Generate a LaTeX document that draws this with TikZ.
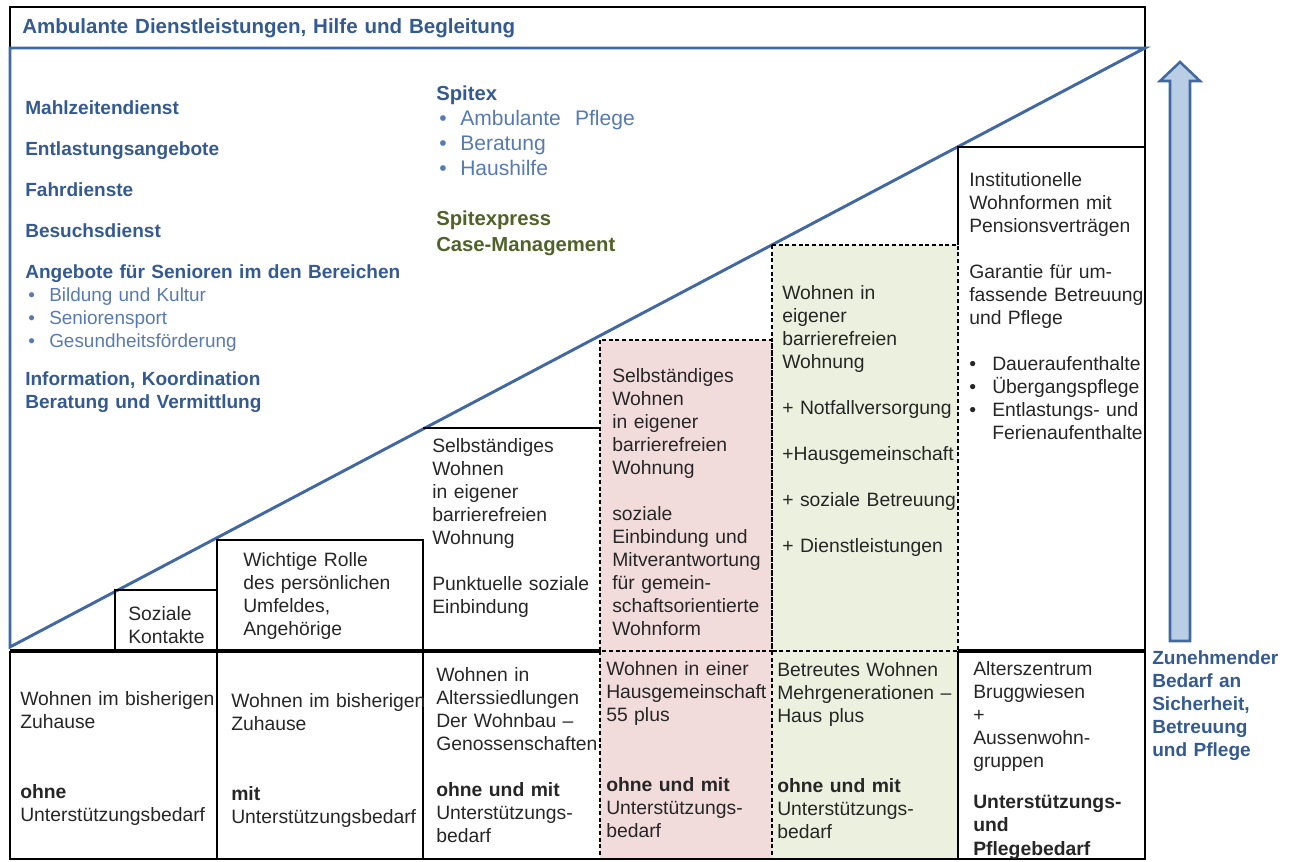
\documentclass[tikz,border=0pt]{standalone}
\usepackage{fontspec}
\setmainfont{Liberation Sans}
\usepackage{tikz}
\usetikzlibrary{positioning}
\usetikzlibrary{arrows.meta}
\definecolor{dunkelblau}{RGB}{52,90,145}
\definecolor{hellblau}{RGB}{88,122,178}
\definecolor{linienblau}{RGB}{65,104,160}
\definecolor{oliv}{RGB}{79,98,40}
\definecolor{rosa}{RGB}{242,220,219}
\definecolor{hellgruen}{RGB}{235,241,222}
\definecolor{pfeilblau}{RGB}{185,205,229}
\newcommand{\zelle}{\fontsize{14.5}{17.25}\selectfont}
\newcommand{\fett}{\fontsize{14.3}{17.25}\selectfont\bfseries}
\newcommand{\pkt}[1][15.75pt]{\makebox[#1][l]{\textbullet}}
\tikzstyle{txt} = [anchor=base west, inner sep=0pt, align=left, text width=14cm,
text=black!85, font=\zelle]
\tikzstyle{rahmen} = [draw=black, line width=1.3pt]
\tikzstyle{strich} = [draw=black, line width=1.2pt, dash pattern=on 3pt off 2pt]

\begin{document}
\begin{tikzpicture}[x=0.75pt, y=-0.75pt,
	blaulinie/.style={draw=linienblau, line width=2.2pt},
	dienst/.style={txt, text=dunkelblau, font=\fett},
	punkt/.style={txt, text=hellblau, font=\fontsize{14.2}{17.6}\selectfont},
	spitex/.style={txt, text=dunkelblau, font=\fontsize{15.2}{19.5}\selectfont\bfseries}]
	\useasboundingbox (0,0) rectangle (1292,861);
	%% Farbflaechen
	\fill[rosa] (600,340) rectangle (772,860);
	\fill[hellgruen] (772,245) rectangle (958,860);
	%% Rahmen und Diagonale
	\draw[rahmen] (10,48) -- (10,7) -- (1145,7) -- (1145,860);
	\draw[blaulinie] (10,647) -- (10,48) -- (1145,48) -- cycle;
	%% Stufen
	\draw[rahmen] (115,651) -- (115,590) -- (217,590) -- (217,651);
	\draw[rahmen] (217,651) -- (217,540) -- (423,540) -- (423,651);
	\draw[rahmen] (423,428) -- (600,428);
	\draw[rahmen] (958,245) -- (958,147) -- (1145,147);
	\draw[strich] (600,340) rectangle (772,651);
	\draw[strich] (772,245) rectangle (958,651);
	%% untere Reihe
	\draw[rahmen, line width=2.4pt] (10,651) -- (600,651);
	\draw[rahmen, line width=2.4pt] (958,651) -- (1145,651);
	\draw[rahmen, line width=2.2pt] (10,651) -- (10,860);
	\draw[rahmen] (217,651) -- (217,860);
	\draw[rahmen] (423,651) -- (423,860);
	\draw[strich] (600,651) -- (600,860);
	\draw[strich] (772,651) -- (772,860);
	\draw[rahmen] (958,651) -- (958,860);
	\draw[rahmen] (10,859) -- (1145,859);

	%% Titel
	\node[dienst, font=\fontsize{15.4}{18}\selectfont\bfseries] (titel) at (22,33)
	{Ambulante Dienstleistungen, Hilfe und Begleitung};
	%% Dienste links
	\node[dienst] (mahlzeit) at (25,114) {Mahlzeitendienst};
	\node[dienst] (entlastung) at (25,155) {Entlastungsangebote};
	\node[dienst] (fahr) at (25,196) {Fahrdienste};
	\node[dienst] (besuch) at (25,237) {Besuchsdienst};
	\node[dienst] (angebote) at (25,278) {Angebote für Senioren im den Bereichen};
	\node[punkt] (bereiche) at (28,301)
	{\pkt Bildung und Kultur\\ \pkt Seniorensport\\ \pkt Gesundheitsförderung};
	\node[dienst] (info) at (25,385) {Information, Koordination\\Beratung und Vermittlung};
	%% Spitex
	\node[spitex] (spitex) at (436,100) {Spitex};
	\node[punkt, font=\fontsize{15.8}{18.75}\selectfont] (pflege) at (439,125)
	{\pkt Ambulante\ \ Pflege\\ \pkt Beratung\\ \pkt Haushilfe};
	\node[spitex, text=oliv] (express) at (436,225) {Spitexpress\\Case-Management};

	%% obere Felder
	\node[txt] (kontakte) at (128,620) {Soziale\\Kontakte};
	\node[txt] (umfeld) at (243,566) {Wichtige Rolle\\des persönlichen\\Umfeldes,\\Angehörige};
	\node[txt] (selbst) at (432,452) {Selbständiges\\Wohnen\\in eigener\\barrierefreien\\Wohnung\\[17.25pt]
		Punktuelle soziale\\Einbindung};
	\node[txt] (gemein) at (612,382) {Selbständiges\\Wohnen\\in eigener\\barrierefreien\\Wohnung\\[17.25pt]
		soziale\\Einbindung und\\Mitverantwortung\\für gemein-\\schaftsorientierte\\Wohnform};
	\node[txt] (notfall) at (782,299) {Wohnen in\\eigener\\barrierefreien\\Wohnung\\[17.25pt]
		+ Notfallversorgung\\[17.25pt] +Hausgemeinschaft\\[17.25pt] + soziale Betreuung\\[17.25pt]
		+ Dienstleistungen};
	\node[txt] (institution) at (969,186) {Institutionelle\\Wohnformen mit\\Pensionsverträgen\\[17.25pt]
		Garantie für um-\\fassende Betreuung\\und Pflege\\[17.25pt]
		\pkt[17.25pt]Daueraufenthalte\\ \pkt[17.25pt]Übergangspflege\\
		\pkt[17.25pt]Entlastungs- und\\ \makebox[17.25pt]{}Ferienaufenthalte};

	%% untere Felder
	\node[txt] (zuhause) at (20,705) {Wohnen im bisherigen\\Zuhause\\[35.25pt]
		\textbf{ohne}\\Unterstützungsbedarf};
	\node[txt] (zuhausemit) at (231,707) {Wohnen im bisherigen\\Zuhause\\[35.25pt]
		\textbf{mit}\\Unterstützungsbedarf};
	\node[txt] (siedlung) at (436,681) {Wohnen in\\Alterssiedlungen\\Der Wohnbau --\\Genossenschaften\\[17.25pt]
		\textbf{ohne und mit}\\Unterstützungs-\\bedarf};
	\node[txt] (hausgemein) at (606,675) {Wohnen in einer\\Hausgemeinschaft\\55 plus\\[35.25pt]
		\textbf{ohne und mit}\\Unterstützungs-\\bedarf};
	\node[txt] (betreut) at (777,676) {Betreutes Wohnen\\Mehrgenerationen --\\Haus plus\\[35.25pt]
		\textbf{ohne und mit}\\Unterstützungs-\\bedarf};
	\node[txt] (zentrum) at (973,675) {Alterszentrum\\Bruggwiesen\\+\\Aussenwohn-\\gruppen\\[13.5pt]
		\textbf{Unterstützungs-}\\[0.4pt]\textbf{und}\\[0.4pt]\textbf{Pflegebedarf}};

	%% Pfeil
	\draw[line width=1.9pt, draw=linienblau, fill=pfeilblau, line join=miter]
	(1170,641) -- (1170,81) -- (1160,81) -- (1180,62) -- (1200,81) -- (1190,81) -- (1190,641) -- cycle;
	\node[dienst] (bedarf) at (1152,664) {Zunehmender\\Bedarf an\\Sicherheit,\\Betreuung\\und Pflege};
\end{tikzpicture}
\end{document}
